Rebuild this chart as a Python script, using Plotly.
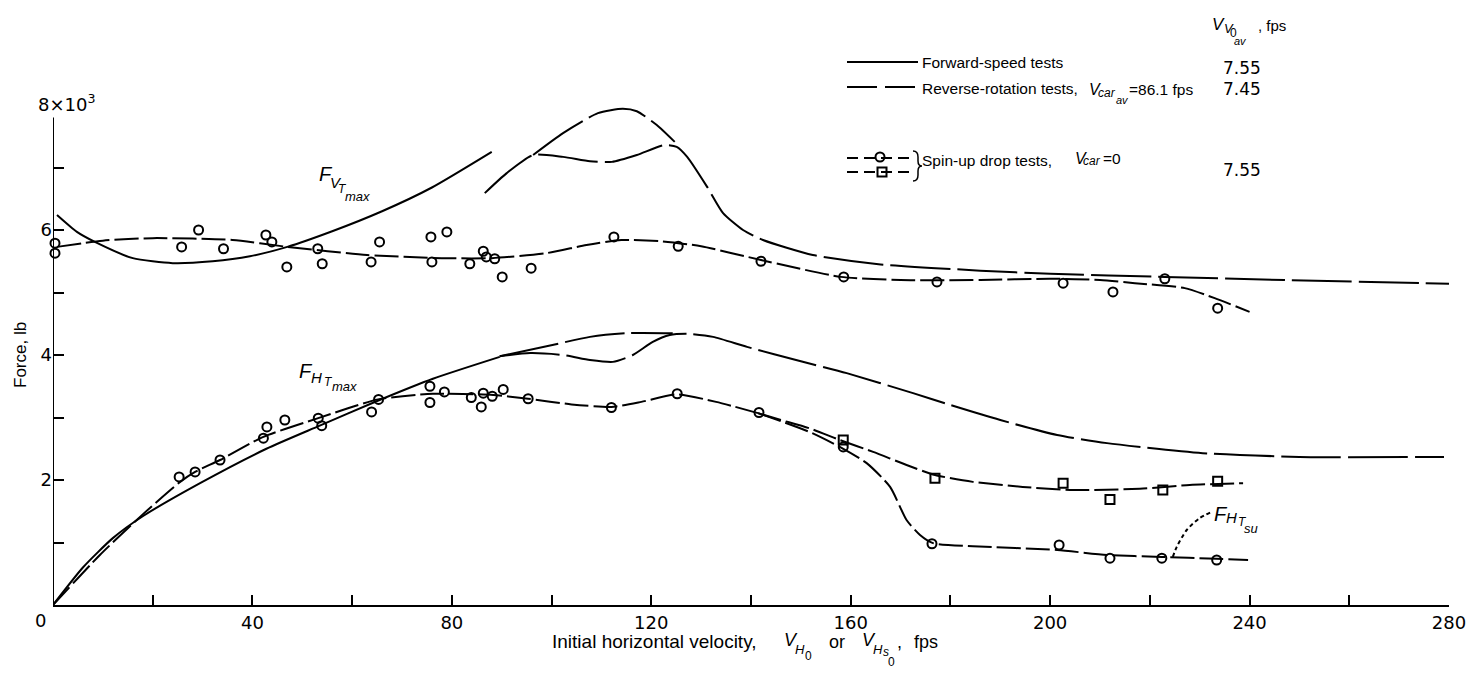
import plotly.graph_objects as go

W, H = 1484, 675
EFF_W = 1467  # width the page actually lays the figure out at (measured from earlier renders)

# ---------------- data (V in fps, F in thousands of lb) ----------------
# vertical force, forward-speed tests (solid)
fv_fwd_v = [0.8, 4.8, 8.4, 16, 24, 32, 39.5, 47, 56, 66, 76, 88]
fv_fwd_f = [6.24, 5.97, 5.81, 5.55, 5.47, 5.5, 5.58, 5.73, 5.98, 6.3, 6.68, 7.25]
# vertical force, reverse-rotation tests (long dash)
fv_rev_v = [86.6, 91, 96.3, 102.3, 107.7, 112.1, 117.1, 122.7, 125.1, 127.2, 131.2, 134.4,
            138.4, 142.4, 152.4, 166, 186, 200, 223, 247, 280]
fv_rev_f = [6.59, 6.91, 7.2, 7.17, 7.1, 7.09, 7.2, 7.36, 7.33, 7.17, 6.69, 6.27,
            6.0, 5.84, 5.6, 5.45, 5.35, 5.3, 5.25, 5.2, 5.14]
fv_hump_v = [96.3, 102.3, 109.3, 114.3, 117.1, 121.1, 124.7]
fv_hump_f = [7.2, 7.55, 7.87, 7.94, 7.9, 7.68, 7.41]
# vertical force, spin-up drop tests (fair curve + points)
fv_su_v = [0.8, 10, 20, 36, 47, 63, 78, 88, 99, 107, 114, 122, 130, 142, 158, 170, 186,
           200, 210, 217, 227, 233, 240]
fv_su_f = [5.73, 5.83, 5.87, 5.84, 5.73, 5.6, 5.55, 5.55, 5.63, 5.76, 5.84, 5.82, 5.74,
           5.52, 5.25, 5.2, 5.2, 5.22, 5.2, 5.15, 5.07, 4.91, 4.69]
fv_circ_v = [0.4, 0.4, 25.8, 29.2, 34.2, 42.7, 43.9, 46.9, 53.1, 54, 63.8, 65.5, 75.8, 76,
             79, 83.6, 86.3, 86.9, 88.6, 90.1, 95.9, 112.5, 125.4, 142, 158.6, 177.3,
             202.6, 212.6, 223, 233.6]
fv_circ_f = [5.79, 5.63, 5.73, 6.0, 5.7, 5.92, 5.81, 5.41, 5.7, 5.46, 5.49, 5.81, 5.89, 5.49,
             5.97, 5.46, 5.66, 5.57, 5.54, 5.25, 5.39, 5.89, 5.74, 5.5, 5.25, 5.17,
             5.15, 5.01, 5.22, 4.75]

# horizontal force, forward-speed tests (solid)
fh_fwd_v = [0, 6, 12, 18, 29.5, 42.8, 53.5, 64.9, 76.2, 89.6]
fh_fwd_f = [0.0, 0.6, 1.07, 1.42, 1.95, 2.5, 2.87, 3.26, 3.62, 3.97]
# horizontal force, reverse-rotation tests (long dash)
fh_top_v = [89.6, 99, 107.7, 115.1, 124.3]
fh_top_f = [3.98, 4.14, 4.29, 4.35, 4.35]
fh_rev_v = [89.6, 95.7, 102.3, 107.7, 112.3, 116.3, 120.3, 123.7, 127.2, 132.4, 139.2, 150,
            159.2, 172.5, 180, 190, 201.4, 211.4, 230.6, 250, 279]
fh_rev_f = [3.98, 4.03, 4.0, 3.92, 3.89, 4.0, 4.21, 4.32, 4.34, 4.29, 4.13, 3.9,
            3.71, 3.39, 3.2, 2.96, 2.72, 2.59, 2.43, 2.37, 2.37]
# horizontal force, spin-up drop tests
fh_su_v = [0, 9.4, 18, 25.5, 28.5, 33.5, 42.2, 53.2, 65.2, 76.2, 88.3, 95.3, 104, 112, 118,
           125, 133, 141.4]
fh_su_f = [0, 0.8, 1.45, 1.97, 2.13, 2.32, 2.69, 2.99, 3.29, 3.38, 3.36, 3.3, 3.21, 3.17,
           3.25, 3.37, 3.25, 3.07]
fh_sq_curve_v = [141.4, 146, 152, 157.8, 164.5, 171.2, 176.9, 184.5, 194.5, 204.6, 218, 228, 238.7]
fh_sq_curve_f = [3.07, 2.96, 2.82, 2.64, 2.45, 2.24, 2.08, 1.97, 1.89, 1.84, 1.86, 1.92, 1.95]
fh_ci_curve_v = [141.4, 146, 152, 157.8, 163.2, 167.9, 171.2, 173.9, 176.5, 184.5, 201.4,
                 211.4, 222.4, 233.4, 239.7]
fh_ci_curve_f = [3.07, 2.94, 2.76, 2.53, 2.27, 1.89, 1.36, 1.12, 0.99, 0.94, 0.88,
                 0.8, 0.77, 0.74, 0.72]
fh_circ_v = [25.3, 28.5, 33.5, 42.2, 42.9, 46.5, 53.2, 53.9, 63.9, 65.3, 75.6, 75.6, 78.5,
             83.9, 85.9, 86.3, 88.1, 90.3, 95.3, 112, 125.2, 141.6, 158.5, 176.3, 201.8,
             212, 222.4, 233.4]
fh_circ_f = [2.05, 2.13, 2.32, 2.67, 2.85, 2.96, 2.99, 2.87, 3.09, 3.29, 3.5, 3.24, 3.41,
             3.32, 3.17, 3.39, 3.34, 3.45, 3.3, 3.16, 3.38, 3.08, 2.53, 0.98, 0.96,
             0.75, 0.75, 0.72]
fh_sq_v = [158.5, 176.9, 202.6, 212, 222.6, 233.6]
fh_sq_f = [2.64, 2.03, 1.95, 1.69, 1.84, 1.98]
# leader line of the F_HTsu label
leader_v = [224.6, 225.4, 227.4, 230, 232.4]
leader_f = [0.77, 0.93, 1.2, 1.39, 1.49]

# ticks
x_major = [40, 80, 120, 160, 200, 240, 280]
x_minor = [20, 60, 100, 140, 180, 220, 260]
y_major = [2, 4, 6]
y_minor = [1, 3, 5, 7]
y_axis_top = 7.8

# legend texts
legend_vals = ["7.55", "7.45", "7.55"]

# ---------------- styling ----------------
NUMFONT = "DejaVu Sans"
TXTFONT = "Liberation Sans"
BLK = "black"
LW = 2
DASH_REV = "60px,7px"
DASH_SU = "24px,5px"


def line(v, f, dash="solid", xa="x", ya="y", smooth=0.6):
    return go.Scatter(x=v, y=f, mode="lines", xaxis=xa, yaxis=ya, hoverinfo="skip",
                      line=dict(color=BLK, width=LW, dash=dash, shape="spline", smoothing=smooth),
                      cliponaxis=False)


def marks(v, f, symbol, size=10, xa="x", ya="y"):
    return go.Scatter(x=v, y=f, mode="markers", xaxis=xa, yaxis=ya, hoverinfo="skip",
                      marker=dict(symbol=symbol, size=size, color=BLK,
                                  line=dict(color=BLK, width=2)),
                      cliponaxis=False)


fig = go.Figure()
fig.add_trace(line(fv_fwd_v, fv_fwd_f))
fig.add_trace(line(fv_rev_v, fv_rev_f, DASH_REV))
fig.add_trace(line(fv_hump_v, fv_hump_f, DASH_REV))
fig.add_trace(line(fv_su_v, fv_su_f, DASH_SU))
fig.add_trace(marks(fv_circ_v, fv_circ_f, "circle-open", 9))

fig.add_trace(line(fh_fwd_v, fh_fwd_f))
fig.add_trace(line(fh_top_v, fh_top_f, DASH_REV))
fig.add_trace(line(fh_rev_v, fh_rev_f, DASH_REV))
fig.add_trace(line(fh_su_v, fh_su_f, DASH_SU))
fig.add_trace(line(fh_sq_curve_v, fh_sq_curve_f, DASH_SU))
fig.add_trace(line(fh_ci_curve_v, fh_ci_curve_f, DASH_SU))
fig.add_trace(marks(fh_circ_v, fh_circ_f, "circle-open", 9))
fig.add_trace(marks(fh_sq_v, fh_sq_f, "square-open", 9))
fig.add_trace(line(leader_v, leader_f, "4px,3px", smooth=0.8))

# ---------------- legend samples (pixel overlay axes) ----------------
fig.add_trace(line([847, 918], [62, 62], "solid", "x2", "y2"))
fig.add_trace(line([847, 918], [87, 87], "30px,8px", "x2", "y2"))
fig.add_trace(line([847, 914], [158, 158], "11px,6px", "x2", "y2"))
fig.add_trace(marks([880], [157], "circle-open", 9, "x2", "y2"))
fig.add_trace(line([847, 914], [172, 172], "11px,6px", "x2", "y2"))
fig.add_trace(marks([882], [172], "square-open", 9, "x2", "y2"))

tickfont = dict(family=NUMFONT, size=18, color=BLK)

fig.update_layout(
    width=W, height=H, margin=dict(l=0, r=0, t=0, b=0, pad=0),
    paper_bgcolor="white", plot_bgcolor="rgba(0,0,0,0)", showlegend=False,
    xaxis=dict(domain=[53 / EFF_W, 1449 / EFF_W], range=[0, 280], anchor="y",
               showline=True, linecolor=BLK, linewidth=2, showgrid=False, zeroline=False,
               tickmode="array", tickvals=x_major, ticks="inside", ticklen=10, tickwidth=2,
               tickcolor=BLK, tickfont=tickfont,
               minor=dict(tickmode="array", tickvals=x_minor, ticks="inside", ticklen=10,
                          tickwidth=2, tickcolor=BLK, showgrid=False)),
    yaxis=dict(domain=[1 - 605 / H, 1 - 105 / H], range=[0, 8], anchor="x",
               showline=False, showgrid=False, zeroline=False,
               tickmode="array", tickvals=y_major, ticks="inside", ticklen=11, tickwidth=2,
               tickcolor=BLK, tickfont=tickfont,
               minor=dict(tickmode="array", tickvals=y_minor, ticks="inside", ticklen=11,
                          tickwidth=2, tickcolor=BLK, showgrid=False)),
    xaxis2=dict(domain=[0, 1], range=[0, EFF_W], visible=False, anchor="y2"),
    yaxis2=dict(domain=[0, 1], range=[H, 0], visible=False, anchor="x2"),
)

fig.add_shape(type="line", xref="x", yref="y", x0=0, x1=0, y0=0, y1=y_axis_top,
              line=dict(color=BLK, width=2))
# legend brace
fig.add_shape(type="path", xref="x2", yref="y2",
              path="M 913 151 Q 918 151 918 157 L 918 161 Q 918 166 922 166 "
                   "Q 918 166 918 171 L 918 175 Q 918 181 913 181",
              line=dict(color=BLK, width=1.5))


def ann(x, y, text, size=16, xanchor="left", angle=0, font=TXTFONT, italic=False):
    if italic:
        text = "<i>" + text + "</i>"
    fig.add_annotation(x=x, y=y, xref="x2", yref="y2", text=text,
                       showarrow=False, xanchor=xanchor, yanchor="middle", textangle=angle,
                       borderpad=0, font=dict(family=font, size=size, color=BLK))


# axis extras
ann(40, 620, "0", 18, "center", font=NUMFONT)
ann(37, 103, "8×10<sup>3</sup>", 18, "left", font=NUMFONT)
ann(20, 355, "Force, lb", 17, "center", angle=-90)

# x-axis title, built from pieces so the stacked subscripts stay legible
ann(551, 641, "Initial horizontal velocity,", 19)
ann(783, 640, "V", 18, italic=True)
ann(794, 649, "H", 13, italic=True)
ann(804, 656, "0", 12)
ann(828, 642, "or", 18)
ann(861, 640, "V", 18, italic=True)
ann(872, 649, "H", 13, italic=True)
ann(882, 652, "s", 12, italic=True)
ann(887, 662, "0", 12)
ann(896, 642, ",", 18)
ann(913, 642, "fps", 18)

# curve labels
ann(318, 174, "F", 20, italic=True)
ann(329, 182, "V", 15, italic=True)
ann(337, 189, "T", 12, italic=True)
ann(344, 196, "max", 13, italic=True)

ann(298, 371, "F", 20, italic=True)
ann(310, 377, "H", 15, italic=True)
ann(323, 382, "T", 12, italic=True)
ann(331, 386, "max", 13, italic=True)

ann(1213, 514, "F", 20, italic=True)
ann(1225, 517, "H", 15, italic=True)
ann(1237, 522, "T", 12, italic=True)
ann(1243, 528, "su", 13, italic=True)

# legend
ann(1211, 24, "V", 17, italic=True)
ann(1223, 28, "V", 13, italic=True)
ann(1229, 33, "0", 12)
ann(1233, 41, "av", 11, italic=True)
ann(1257, 25, ", fps", 15)

ann(921, 62, "Forward-speed tests", 15.5)
ann(921, 88, "Reverse-rotation tests,", 15.5)
ann(1088, 89, "V", 16, italic=True)
ann(1097, 93, "car", 12, italic=True)
ann(1115, 100, "av", 11, italic=True)
ann(1128, 89, "=86.1 fps", 15.5)
ann(921, 160, "Spin-up drop tests,", 15.5)
ann(1074, 158, "V", 16, italic=True)
ann(1082, 161, "car", 12, italic=True)
ann(1102, 158, "=0", 15.5)

ann(1242, 68, legend_vals[0], 17, "center", font=NUMFONT)
ann(1242, 89, legend_vals[1], 17, "center", font=NUMFONT)
ann(1242, 170, legend_vals[2], 17, "center", font=NUMFONT)

fig.write_html("out.html")
